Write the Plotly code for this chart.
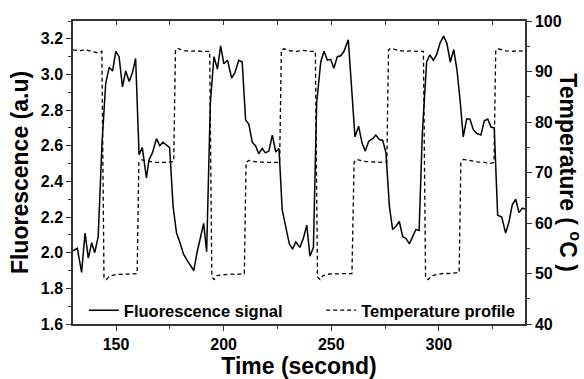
import plotly.graph_objects as go

# Fluorescence signal (time in s, signal in a.u.)
fl_time = [130.0, 132.0, 134.0, 135.6, 137.1, 138.7, 140.1, 141.7, 143.5, 145.2, 146.8, 148.4, 149.9,
           151.4, 153.0, 154.5, 156.1, 157.6, 159.1, 160.7, 162.2, 164.1, 165.3, 166.9, 168.8, 170.3,
           171.8, 173.4, 174.9, 176.5, 178.1, 179.6, 181.4, 183.4, 184.9, 186.1, 187.6, 189.2, 190.7,
           192.1, 193.8, 195.5, 197.1, 198.6, 200.1, 201.8, 203.7, 205.2, 207.0, 208.6, 210.2, 211.7,
           213.3, 214.8, 216.3, 217.9, 219.4, 221.0, 222.6, 224.2, 225.7, 227.2, 228.8, 230.5, 232.0,
           233.5, 235.4, 237.0, 238.6, 240.1, 241.7, 243.2, 245.1, 246.6, 248.2, 249.7, 251.2, 252.8,
           254.4, 255.9, 257.9, 259.5, 261.0, 262.7, 264.3, 265.8, 267.4, 269.2, 270.7, 272.3, 273.9,
           275.4, 277.0, 278.5, 280.1, 281.6, 283.2, 284.7, 286.3, 287.8, 289.3, 290.8, 292.3, 294.3,
           295.8, 297.4, 298.9, 300.5, 302.2, 303.7, 305.3, 306.9, 308.4, 309.8, 311.3, 312.9, 314.4,
           316.0, 317.5, 319.5, 321.1, 322.7, 324.2, 325.7, 327.3, 329.2, 331.0, 332.6, 334.1, 335.7,
           337.2, 338.8, 340.0]
fl_signal = [2.01, 2.025, 1.89, 2.11, 1.97, 2.056, 2.00, 2.09, 2.62, 2.95, 3.04, 3.02, 3.13,
             3.10, 2.93, 3.02, 2.96, 3.01, 3.09, 2.55, 2.59, 2.42, 2.52, 2.56, 2.64, 2.60,
             2.62, 2.605, 2.59, 2.26, 2.11, 2.06, 1.99, 1.95, 1.92, 1.90, 2.00, 2.09, 2.165,
             2.005, 2.84, 3.10, 3.03, 3.16, 3.06, 3.08, 2.98, 3.01, 3.08, 3.07, 2.745, 2.72,
             2.62, 2.60, 2.555, 2.585, 2.56, 2.57, 2.66, 2.565, 2.585, 2.24, 2.14, 2.05, 2.02,
             2.06, 2.03, 2.08, 2.155, 1.98, 2.03, 2.84, 3.07, 3.13, 3.08, 3.085, 3.035, 3.10,
             3.105, 3.13, 3.195, 2.93, 2.65, 2.71, 2.615, 2.57, 2.625, 2.64, 2.66, 2.635, 2.63,
             2.56, 2.26, 2.13, 2.15, 2.175, 2.09, 2.08, 2.05, 2.09, 2.13, 2.125, 2.67, 3.07,
             3.11, 3.08, 3.11, 3.175, 3.215, 3.175, 3.07, 3.14, 3.025, 2.86, 2.65, 2.75, 2.75,
             2.69, 2.67, 2.66, 2.74, 2.75, 2.705, 2.70, 2.21, 2.20, 2.11, 2.175, 2.27, 2.30,
             2.225, 2.25, 2.245]

# Temperature profile (time in s, temperature in deg C)
temp_time = [130, 133, 136, 139, 141.5, 143.4, 144.4, 145.5, 147, 150, 153, 156, 159.8, 160.6, 161.8,
             165, 168, 171, 174, 176.8, 177.6, 178.6, 181, 184, 187, 190, 193.5, 194.5, 195.6, 197,
             200, 203, 206, 209.6, 210.4, 211.6, 215, 218, 221, 224, 226, 226.8, 228, 231, 234, 237,
             240, 242.6, 243.6, 244.8, 246.2, 249, 252, 255, 259.6, 260.6, 261.8, 265, 268, 271, 274,
             275.8, 276.6, 277.8, 281, 284, 287, 290, 292.8, 293.8, 295, 296.5, 299, 302, 305, 309.4,
             310.2, 311.4, 315, 318, 321, 324, 325.6, 326.4, 327.6, 331, 334, 337, 340]
temp_values = [94.3, 94.1, 94.3, 94.0, 93.7, 94.0, 49.2, 48.8, 49.5, 49.8, 49.8, 49.9, 50.0, 72.0, 72.5,
               72.2, 72.0, 72.0, 72.0, 72.2, 94.2, 94.6, 94.2, 94.0, 94.1, 94.0, 94.0, 49.3, 48.8, 49.6,
               49.8, 49.9, 49.8, 50.0, 72.0, 72.4, 72.1, 72.0, 72.0, 72.0, 72.0, 94.2, 94.5, 94.1, 94.0, 94.2,
               94.0, 94.0, 49.3, 48.8, 49.6, 49.9, 49.9, 50.0, 50.0, 72.0, 72.6, 72.2, 72.1, 72.0, 72.0,
               72.1, 94.3, 94.6, 94.2, 94.0, 94.1, 94.0, 94.0, 49.2, 48.8, 49.5, 49.8, 50.0, 50.0, 50.2,
               72.0, 72.6, 72.3, 72.1, 72.0, 71.8, 72.0, 94.2, 94.5, 94.1, 94.0, 94.1, 94.0]

x_range = [130, 340]
x_ticks = [150, 200, 250, 300]
fl_range = [1.6, 3.3]
fl_ticks = [1.6, 1.8, 2.0, 2.2, 2.4, 2.6, 2.8, 3.0, 3.2]
temp_range = [40, 100]
temp_ticks = [40, 50, 60, 70, 80, 90, 100]

FONT = "Liberation Sans, Arial, sans-serif"
AX = "#333333"

fig = go.Figure()
fig.add_trace(go.Scatter(x=fl_time, y=fl_signal, mode="lines", name="<b>Fluorescence signal</b>",
                         line=dict(color="black", width=1.5), legend="legend"))
fig.add_trace(go.Scatter(x=temp_time, y=temp_values, mode="lines", name="<b>Temperature profile</b>",
                         yaxis="y2", line=dict(color="black", width=1.3, dash="4px,3px"),
                         legend="legend2"))

tickfont = dict(family=FONT, size=16, color="black", weight=700)
legfont = dict(family=FONT, size=16.5, color="black", weight=700)


def bold(vals, fmt):
    return ["<b>" + fmt.format(v) + "</b>" for v in vals]


fig.update_layout(
    width=584, height=379,
    margin=dict(l=73, r=59, t=21, b=55, autoexpand=False),
    paper_bgcolor="white", plot_bgcolor="white",
    font=dict(family=FONT, color="black"),
    xaxis=dict(range=x_range, tickvals=x_ticks, ticktext=bold(x_ticks, "{:d}"), automargin=False,
               ticks="outside", ticklen=5, tickwidth=1.3,
               tickcolor=AX, showline=True, linecolor=AX, linewidth=1.5, showgrid=False,
               zeroline=False, tickfont=tickfont,
               minor=dict(dtick=25, tick0=0, ticks="outside", ticklen=3, tickcolor=AX, tickwidth=1.2),
               title=dict(text="<b>Time (second)</b>", font=dict(family=FONT, size=23, weight=700),
                          standoff=7)),
    xaxis2=dict(range=x_range, overlaying="x", side="top", dtick=25, tick0=0, ticks="inside",
                ticklen=4, tickwidth=1.3, tickcolor=AX, showline=True, linecolor=AX, linewidth=1.5,
                showticklabels=False, showgrid=False, zeroline=False, automargin=False),
    yaxis=dict(range=fl_range, tickvals=fl_ticks, ticktext=bold(fl_ticks, "{:.1f}"), automargin=False,
               ticks="outside", ticklen=5, tickwidth=1.3, tickcolor=AX, showline=True,
               linecolor=AX, linewidth=1.5, showgrid=False, zeroline=False, tickfont=tickfont,
               minor=dict(dtick=0.1, tick0=0, ticks="outside", ticklen=3, tickcolor=AX, tickwidth=1.2),
               title=dict(text="<b>Fluorescence (a.u)</b>", font=dict(family=FONT, size=23, weight=700),
                          standoff=6)),
    yaxis2=dict(range=temp_range, overlaying="y", side="right", tickvals=temp_ticks,
                ticktext=bold(temp_ticks, "{:d}"), automargin=False,
                ticks="outside", ticklen=5, tickwidth=1.3, tickcolor=AX, showline=True,
                linecolor=AX, linewidth=1.5, showgrid=False, zeroline=False, tickfont=tickfont,
                minor=dict(dtick=5, tick0=0, ticks="outside", ticklen=3, tickcolor=AX, tickwidth=1.2)),
    legend=dict(orientation="h", x=0.024, xanchor="left", y=-0.013, yanchor="bottom",
                bgcolor="rgba(0,0,0,0)", borderwidth=0, font=legfont),
    legend2=dict(orientation="h", x=0.549, xanchor="left", y=-0.013, yanchor="bottom",
                 bgcolor="rgba(0,0,0,0)", borderwidth=0, font=legfont),
    showlegend=True,
    annotations=[dict(text="<b>Temperature ( <sup>o</sup>C )</b>", xref="paper", yref="paper",
                      x=1.100, y=0.5, xanchor="center", yanchor="middle", textangle=90,
                      showarrow=False, font=dict(family=FONT, size=23, color="black", weight=700))],
)

# attach an empty, invisible trace so the mirrored top axis (inward ticks) is drawn
fig.add_trace(go.Scatter(x=x_range, y=fl_range, xaxis="x2", mode="none", showlegend=False,
                         hoverinfo="skip"))

fig.write_html("out.html")
